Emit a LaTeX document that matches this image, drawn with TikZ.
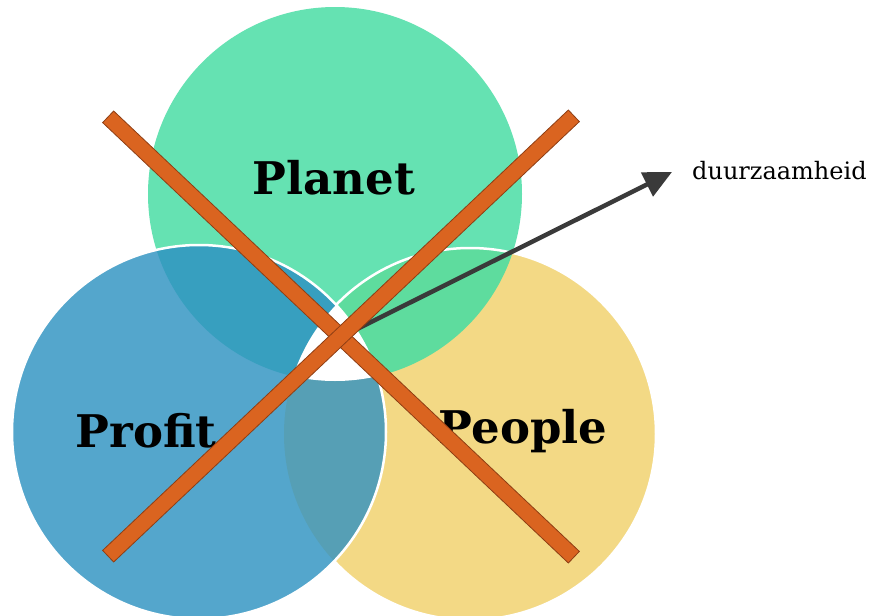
\documentclass[tikz,border=0pt]{standalone}
\usepackage{fontspec}
\setmainfont{DejaVu Serif}
\usetikzlibrary{arrows.meta}
\definecolor{planetc}{HTML}{65E2B2}
\definecolor{profitc}{HTML}{54A6CC}
\definecolor{peoplec}{HTML}{F3D985}
\definecolor{plprc}{HTML}{379FBF}
\definecolor{plpec}{HTML}{5EDC9E}
\definecolor{prpec}{HTML}{569FB5}
\definecolor{crossc}{HTML}{DA6420}
\definecolor{crossedge}{HTML}{8E3E14}
\definecolor{arrowc}{HTML}{3A3A3A}
\tikzset{
  biglabel/.style={font=\fontsize{45}{45}\selectfont\bfseries, text=black, inner sep=0pt},
  crossbar/.style={draw=crossedge, fill=crossc, line width=0.8pt, minimum width=641pt, minimum height=16pt, inner sep=0pt},
  whiteedge/.style={draw=white, line width=2.5pt}
}
\begin{document}
\begin{tikzpicture}[x=1pt,y=-1pt]
\useasboundingbox (0,0) rectangle (871,616);
\fill[white] (0,0) rectangle (871,616);
% circles
\def\planet{(335,194) circle[radius=187]}
\def\profit{(199,432) circle[radius=187]}
\def\people{(470,434) circle[radius=186]}
\fill[planetc] \planet;
\fill[peoplec] \people;
\begin{scope}
  \clip \people;
  \fill[plpec] \planet;
\end{scope}
\draw[whiteedge] \people;
\fill[profitc] \profit;
\begin{scope}
  \clip \profit;
  \fill[plprc] \planet;
  \fill[prpec] \people;
\end{scope}
\draw[whiteedge] \profit;
\begin{scope}
  \clip \profit;
  \clip \people;
  \fill[white] \planet;
\end{scope}
% labels
\node[biglabel] (planet) at (334,178) {Planet};
\node[biglabel] (profit) at (146,431) {Profit};
\node[biglabel] (people) at (523,431) {People};
\node[font=\fontsize{24}{24}\selectfont, anchor=west, inner sep=0pt] (dz) at (692,171) {duurzaamheid};
% arrow
\coordinate (cross) at (341,337);
\coordinate (tip) at (672,172);
\draw[arrowc, line width=4.5pt, -{Triangle[length=28pt,width=26pt]}] (cross) -- (tip);
% the X
\node[crossbar, rotate=-43.4] (bar1) at (341,337) {};
\node[crossbar, rotate=43.4] (bar2) at (341,336) {};
\end{tikzpicture}
\end{document}
